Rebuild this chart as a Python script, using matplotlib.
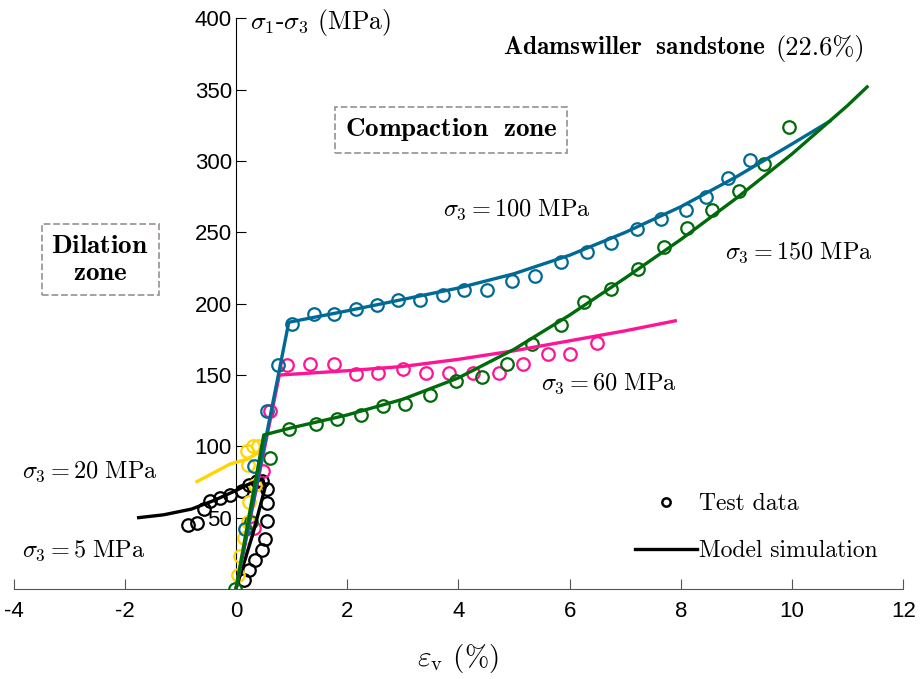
import numpy as np
import matplotlib
matplotlib.use('Agg')
import matplotlib.pyplot as plt
from matplotlib.lines import Line2D

plt.rcParams['font.family'] = 'Liberation Sans'
plt.rcParams['mathtext.fontset'] = 'cm'
plt.rcParams['axes.unicode_minus'] = False

# Test data (volumetric strain %, deviatoric stress MPa)
ev_5 = [0.14, 0.23, 0.35, 0.46, 0.53, 0.56, 0.56, 0.56, 0.47, 0.37, 0.23, 0.11,
        -0.10, -0.28, -0.46, -0.57, -0.70, -0.87]
q_5 = [6, 13, 20, 27, 35, 48, 60, 70, 76, 76, 73, 69, 66, 64, 62, 56, 46, 45]

ev_20 = [0.03, 0.08, 0.15, 0.22, 0.24, 0.35, 0.22, 0.20, 0.30, 0.40]
q_20 = [10, 23, 36, 47, 61, 73, 87, 97, 100, 100]

ev_60 = [0.32, 0.49, 0.62, 0.92, 1.34, 1.76, 2.15, 2.56, 3.00, 3.42, 3.84,
         4.27, 4.73, 5.17, 5.62, 6.01, 6.49]
q_60 = [43, 83, 125, 157, 157.5, 157.5, 151, 151.5, 154.5, 151.5, 151.5,
        151.5, 151.5, 158, 165, 165, 172.5]

ev_100 = [0.17, 0.33, 0.55, 0.76, 1.01, 1.40, 1.77, 2.15, 2.53, 2.92, 3.31,
          3.72, 4.10, 4.52, 4.96, 5.38, 5.85, 6.31, 6.75, 7.21, 7.65, 8.09,
          8.45, 8.85, 9.25]
q_100 = [42, 86, 125, 157, 186, 193, 192.5, 196, 199, 202.5, 202.5, 206,
         209.5, 209.5, 216, 219.5, 229.5, 236, 242.5, 252.5, 259.5, 266,
         275, 288, 301]

ev_150 = [-0.01, 0.27, 0.62, 0.95, 1.44, 1.82, 2.24, 2.65, 3.04, 3.49, 3.96,
          4.43, 4.87, 5.33, 5.84, 6.26, 6.75, 7.23, 7.70, 8.11, 8.56, 9.04,
          9.49, 9.95]
q_150 = [0, 47, 92, 112, 115.5, 119, 122, 128.5, 129.5, 136, 145.5, 148.5,
         158, 171.5, 185, 201, 210.5, 224, 240, 253, 266, 279, 298, 324]

# Model simulation curves
m_ev_5 = [0, 0.3, 0.53, 0.47, 0.2, 0, -0.4, -0.8, -1.3, -1.75]
m_q_5 = [0, 38, 72, 77, 73, 69, 62, 56, 52, 50]

m_ev_20 = [0, 0.25, 0.47, 0.2, -0.1, -0.4, -0.7]
m_q_20 = [0, 55, 97, 91, 87.7, 81.5, 75.3]

m_ev_60 = [0, 0.78, 2, 3, 4, 5, 6, 7, 7.9]
m_q_60 = [0, 150, 153, 156, 161, 167, 174, 181, 188]

m_ev_100 = [0, 0.95, 2, 3, 4, 5, 6, 7, 8, 9, 10, 10.68]
m_q_100 = [0, 187, 195, 203, 211, 221, 234, 250, 268, 289, 312, 328]

m_ev_150 = [0, 0.5, 1, 2, 3, 4, 5, 6, 7, 8, 9, 10, 11, 11.35]
m_q_150 = [0, 108, 113, 122, 133, 148, 168, 192, 218, 245, 274, 305, 339, 352]

c_5, c_20, c_60 = 'black', '#ffd400', '#ff1493'
c_100, c_150 = '#006a94', '#006b0a'

fig = plt.figure(figsize=(9.21, 6.79), dpi=100)
ax = fig.add_axes([0.0147, 0.1326, 0.966, 0.8402])

series = [
    (m_ev_5, m_q_5, ev_5, q_5, c_5),
    (m_ev_20, m_q_20, ev_20, q_20, c_20),
    (m_ev_60, m_q_60, ev_60, q_60, c_60),
    (m_ev_100, m_q_100, ev_100, q_100, c_100),
    (m_ev_150, m_q_150, ev_150, q_150, c_150),
]
for mx, my, dx, dy, c in series:
    ax.plot(dx, dy, 'o', mfc='none', mec=c, ms=9, mew=1.6, zorder=3)
    ax.plot(mx, my, '-', color=c, lw=2.4, zorder=4)

ax.set_xlim(-4, 12)
ax.set_ylim(0, 400)
ax.set_xticks(np.arange(-4, 13, 2))
ax.set_yticks(np.arange(50, 401, 50))
ax.spines['left'].set_position(('data', 0))
ax.spines['bottom'].set_position(('data', 0))
ax.spines['top'].set_visible(False)
ax.spines['right'].set_visible(False)
ax.spines['bottom'].set_color('#555555')
ax.tick_params(axis='both', direction='in', length=7, labelsize=16)
ax.tick_params(axis='x', colors='#555555', labelcolor='black', pad=9)
ax.tick_params(axis='y', pad=3)

cm = dict(fontfamily='cmr10', fontsize=17.5)
cmb = dict(fontfamily='cmr10', fontsize=19.5)
ax.text(0.26, 397, r'$\sigma_1$-$\sigma_3$ (MPa)', va='center', ha='left',
        fontfamily='cmr10', fontsize=18.5)
ax.text(4.8, 379, r'$\mathbf{Adamswiller\ \ sandstone}$', va='center', ha='left',
        fontfamily='cmr10', fontsize=18.2)
ax.text(11.32, 379, '(22.6%)', va='center', ha='right', fontfamily='cmr10', fontsize=19)
box = dict(boxstyle='square,pad=0.35', fc='white', ec='#a09898', ls='--', lw=1.3)
ax.text(3.87, 322, r'$\mathbf{Compaction\ \ zone}$', ha='center', va='center', bbox=box, **cmb)
ax.text(-2.44, 231, '$\\mathbf{Dilation}$\n$\\mathbf{zone}$', ha='center', va='center',
        multialignment='center', bbox=box, **cmb)
ax.text(3.73, 266, r'$\sigma_3 = 100\ \mathrm{MPa}$', va='center', ha='left', **cm)
ax.text(8.80, 236, r'$\sigma_3 = 150\ \mathrm{MPa}$', va='center', ha='left', **cm)
ax.text(5.49, 144, r'$\sigma_3 = 60\ \mathrm{MPa}$', va='center', ha='left', **cm)
ax.text(-3.84, 82, r'$\sigma_3 = 20\ \mathrm{MPa}$', va='center', ha='left', **cm)
ax.text(-3.84, 26.5, r'$\sigma_3 = 5\ \mathrm{MPa}$', va='center', ha='left', **cm)

ax.set_xlabel(r'$\varepsilon_{\mathrm{v}}$ (%)', fontfamily='cmr10', fontsize=21, labelpad=14)

handles = [Line2D([], [], ls='none', marker='o', mfc='none', mec='k', ms=6, mew=1.8),
           Line2D([], [], color='k', lw=2.4)]
ax.legend(handles, ['Test data', 'Model simulation'], loc='upper left',
          bbox_to_anchor=(0.699, 0.168), frameon=False, borderpad=0, borderaxespad=0,
          handlelength=2.6, handletextpad=0.1, labelspacing=1.05,
          prop={'family': 'cmr10', 'size': 17})

fig.savefig('out.png', dpi=100)
